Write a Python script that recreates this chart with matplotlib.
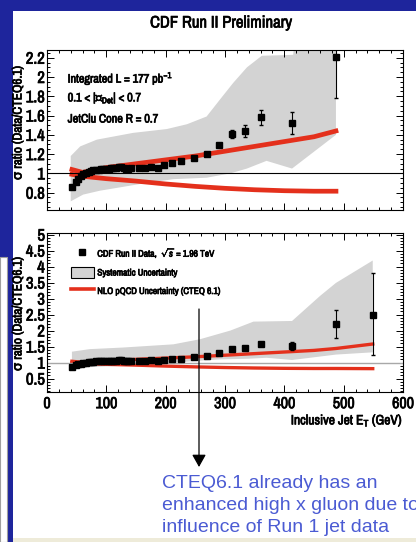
import matplotlib
matplotlib.use('Agg')
import matplotlib.pyplot as plt
from matplotlib import font_manager
import matplotlib.patheffects as pe
from matplotlib.text import Text
from matplotlib.patches import Rectangle, Patch
from matplotlib.lines import Line2D
from matplotlib.ticker import MultipleLocator, FuncFormatter
import numpy as np

# data points (inclusive jet ET in GeV, data / CTEQ6.1 ratio)
et = [42.7, 48.4, 52.9, 56.9, 61, 66, 70, 74, 78, 83, 87, 91, 95, 100, 104, 108,
      112, 117, 121, 125, 129, 133, 137, 142, 155, 165, 175, 187, 198, 210, 225,
      248, 269, 290, 311, 333, 361, 413, 487, 549]
ratio = [0.86, 0.91, 0.945, 0.97, 0.99, 1.00, 1.01, 1.02, 1.03, 1.035, 1.04, 1.045,
         1.045, 1.05, 1.05, 1.055, 1.06, 1.06, 1.065, 1.065, 1.06, 1.05, 1.05, 1.055,
         1.06, 1.06, 1.065, 1.06, 1.085, 1.11, 1.125, 1.16, 1.20, 1.29, 1.41, 1.44,
         1.58, 1.52, 2.205, 2.5]
err_lo = [0.01, 0.01, 0.01, 0.01, 0.01, 0.01, 0.01, 0.01, 0.01, 0.01, 0.01, 0.01,
          0.01, 0.01, 0.01, 0.01, 0.01, 0.01, 0.01, 0.01, 0.01, 0.01, 0.01, 0.01,
          0.01, 0.01, 0.01, 0.01, 0.01, 0.01, 0.01, 0.01, 0.015, 0.02, 0.04, 0.06,
          0.075, 0.115, 0.425, 1.25]
err_hi = [0.01, 0.01, 0.01, 0.01, 0.01, 0.01, 0.01, 0.01, 0.01, 0.01, 0.01, 0.01,
          0.01, 0.01, 0.01, 0.01, 0.01, 0.01, 0.01, 0.01, 0.01, 0.01, 0.01, 0.01,
          0.01, 0.01, 0.01, 0.01, 0.01, 0.01, 0.01, 0.01, 0.015, 0.02, 0.04, 0.06,
          0.075, 0.115, 0.45, 1.3]

# systematic uncertainty band, top panel
top_hi_et = [40, 56, 84, 145, 202, 236, 269, 292, 314, 337, 362, 415, 420, 487]
top_hi = [1.18, 1.28, 1.35, 1.42, 1.46, 1.51, 1.59, 1.77, 1.94, 2.10, 2.22, 2.23, 2.60, 2.70]
top_lo_et = [40, 61, 89, 128, 157, 213, 269, 309, 337, 370, 413, 487]
top_lo = [0.71, 0.78, 0.82, 0.86, 0.89, 0.94, 0.955, 1.0, 1.05, 1.13, 1.05, 1.40]

# systematic uncertainty band, bottom panel
bot_hi_et = [42, 72, 128, 213, 258, 309, 348, 413, 460, 487, 549]
bot_hi = [1.34, 1.42, 1.47, 1.57, 1.73, 2.0, 2.28, 2.30, 3.08, 3.49, 4.19]
bot_lo_et = [42, 100, 150, 200, 250, 292, 340, 370, 413, 487, 549]
bot_lo = [0.83, 0.88, 0.92, 0.97, 1.05, 1.10, 1.12, 1.15, 1.08, 1.25, 1.32]

# NLO pQCD (CTEQ 6.1) uncertainty
nlo_et = [42, 60, 100, 150, 200, 250, 300, 350, 400, 450, 487, 549]
nlo_up = [1.04, 1.01, 1.06, 1.10, 1.14, 1.18, 1.23, 1.28, 1.33, 1.38, 1.44, 1.58]
nlo_lo = [0.99, 0.97, 0.945, 0.92, 0.89, 0.865, 0.845, 0.83, 0.82, 0.815, 0.815, 0.81]

top_yticks = [0.8, 1.0, 1.2, 1.4, 1.6, 1.8, 2.0, 2.2]
bot_yticks = [0.5, 1, 1.5, 2, 2.5, 3, 3.5, 4, 4.5, 5]
xticks = [0, 100, 200, 300, 400, 500, 600]

names = {f.name for f in font_manager.fontManager.ttflist}
NARROW = 'Liberation Sans'
for cand in ['Liberation Sans Narrow', 'Arial Narrow', 'Archivo Narrow', 'Roboto Condensed',
             'PT Sans Narrow', 'IBM Plex Sans Condensed', 'Encode Sans Condensed',
             'Pragati Narrow']:
    if cand in names:
        NARROW = cand
        break
plt.rcParams['font.family'] = [NARROW, 'DejaVu Sans']
plt.rcParams['mathtext.fontset'] = 'custom'
plt.rcParams['mathtext.rm'] = NARROW
plt.rcParams['mathtext.it'] = NARROW + ':italic'
plt.rcParams['mathtext.bf'] = NARROW + ':bold'

GREY = '#d3d3d3'
RED = '#e4301c'
W, H = 416, 542


def fx(px):
    return px / W


def fy(py):
    return 1 - py / H


fig = plt.figure(figsize=(W / 100, H / 100), dpi=100)
fig.patch.set_facecolor('#1e259c')

# slide background pieces
fig.add_artist(Rectangle((fx(13), fy(538)), fx(416) - fx(13), fy(11) - fy(538),
                         transform=fig.transFigure, facecolor='white', lw=0, zorder=-2))
fig.add_artist(Rectangle((0, 0), fx(7.5), fy(257), transform=fig.transFigure,
                         facecolor='white', edgecolor='#a0a0a0', lw=0.8, zorder=-2))
fig.add_artist(Rectangle((fx(13), 0), 1, fy(538), transform=fig.transFigure,
                         facecolor='#eeebd9', lw=0, zorder=5))

ax1 = fig.add_axes([fx(47), fy(210), fx(403) - fx(47), fy(50) - fy(210)])
ax2 = fig.add_axes([fx(47), fy(392), fx(403) - fx(47), fy(233) - fy(392)])

et_a = np.array(et)
nlo_a = np.array(nlo_et)
keep = et_a < 500
keep_nlo = nlo_a <= 487

# top panel
ax1.fill(np.r_[top_hi_et, top_lo_et[::-1]], np.r_[top_hi, top_lo[::-1]],
         color=GREY, lw=0, zorder=1)
ax1.plot(nlo_a[keep_nlo], np.array(nlo_up)[keep_nlo], color=RED, lw=3.4, zorder=2)
ax1.plot(nlo_a[keep_nlo], np.array(nlo_lo)[keep_nlo], color=RED, lw=3.4, zorder=2)
ax1.axhline(1, color='black', lw=0.8, zorder=2)
ax1.errorbar(et_a[keep], np.array(ratio)[keep],
             yerr=[np.array(err_lo)[keep], np.array(err_hi)[keep]],
             fmt='s', color='black', ms=3.8, elinewidth=0.8, capsize=1.2, zorder=3)
ax1.set_xlim(0, 600)
ax1.set_ylim(0.62, 2.28)
ax1.set_yticks(top_yticks)
ax1.yaxis.set_minor_locator(MultipleLocator(0.05))
ax1.set_xticks(xticks)
ax1.xaxis.set_minor_locator(MultipleLocator(20))
ax1.tick_params(labelbottom=False)

# bottom panel
ax2.fill(np.r_[bot_hi_et, bot_lo_et[::-1]], np.r_[bot_hi, bot_lo[::-1]],
         color=GREY, lw=0, zorder=1)
ax2.plot(nlo_et, nlo_up, color=RED, lw=2.4, zorder=2)
ax2.plot(nlo_et, nlo_lo, color=RED, lw=2.4, zorder=2)
ax2.axhline(1, color='#a8a8a8', lw=1.0, zorder=2)
ax2.errorbar(et, ratio, yerr=[err_lo, err_hi], fmt='s', color='black', ms=3.8,
             elinewidth=0.8, capsize=1.2, zorder=3)
ax2.set_xlim(0, 600)
ax2.set_ylim(0.08, 5.05)
ax2.set_yticks(bot_yticks)
ax2.yaxis.set_minor_locator(MultipleLocator(0.1))
ax2.set_xticks(xticks)
ax2.xaxis.set_minor_locator(MultipleLocator(20))

fmt = FuncFormatter(lambda v, p: f'{v:g}')
for ax in (ax1, ax2):
    ax.yaxis.set_major_formatter(fmt)
    ax.tick_params(which='both', direction='in', top=True, right=True, width=0.7)
    ax.tick_params(which='major', length=5, labelsize=12, pad=1.5)
    ax.tick_params(which='minor', length=2.5)
    for s in ax.spines.values():
        s.set_linewidth(0.8)
ax2.tick_params(axis='x', labelsize=11.5, pad=3)

handles = [Line2D([], [], marker='s', ls='none', color='black', ms=4.2),
           Patch(facecolor=GREY, edgecolor='black', lw=0.8),
           Line2D([], [], color=RED, lw=2.6)]
labels = ['CDF Run II Data,  $\\sqrt{s}$ = 1.96 TeV', 'Systematic Uncertainty',
          'NLO pQCD Uncertainty (CTEQ 6.1)']
ax2.legend(handles, labels, loc='upper left', bbox_to_anchor=(0.067, 0.918),
           frameon=False, fontsize=6.8, handlelength=2.4, handleheight=1.55,
           handletextpad=0.4, labelspacing=0.7, borderpad=0, borderaxespad=0)

# texts
fig.text(fx(221), fy(23), 'CDF Run II Preliminary', fontsize=12, weight='bold',
         ha='center', va='center')
fig.text(fx(67.7), fy(78), 'Integrated L = 177 pb$^{-1}$', fontsize=8.8, va='center')
fig.text(fx(67.7), fy(98), '0.1 < |η$_{\\rm Det}$| < 0.7', fontsize=8.8, va='center')
fig.text(fx(67.7), fy(119), 'JetClu Cone R = 0.7', fontsize=8.8, va='center')
fig.text(fx(18), fy(123), 'σ ratio (Data/CTEQ6.1)', rotation=90, fontsize=9.5,
         ha='center', va='center')
fig.text(fx(18), fy(314), 'σ ratio (Data/CTEQ6.1)', rotation=90, fontsize=9.5,
         ha='center', va='center')
fig.text(fx(403), fy(421), 'Inclusive Jet E$_{\\rm T}$ (GeV)', fontsize=9.8,
         ha='right', va='center')

plt.annotate('', xy=(199, H - 467), xytext=(199, H - 309), xycoords='figure pixels',
             textcoords='figure pixels',
             arrowprops=dict(arrowstyle='-|>,head_length=0.75,head_width=0.42',
                             color='black', lw=0.9, shrinkA=0, shrinkB=0))

# ROOT text looks heavier in the screenshot: thicken the chart text a little
fig.canvas.draw()
for t in fig.findobj(Text):
    if t.get_text():
        t.set_path_effects([pe.withStroke(linewidth=0.5, foreground='black')])

for py, line in [(483, 'CTEQ6.1 already has an'),
                 (506, 'enhanced high x gluon due to'),
                 (528, 'influence of Run 1 jet data')]:
    fig.text(fx(162), fy(py), line, family=['Liberation Sans', 'DejaVu Sans'],
             fontsize=14, color='#4b5bd3', va='center')

fig.savefig('out.png', dpi=100, facecolor=fig.get_facecolor())
